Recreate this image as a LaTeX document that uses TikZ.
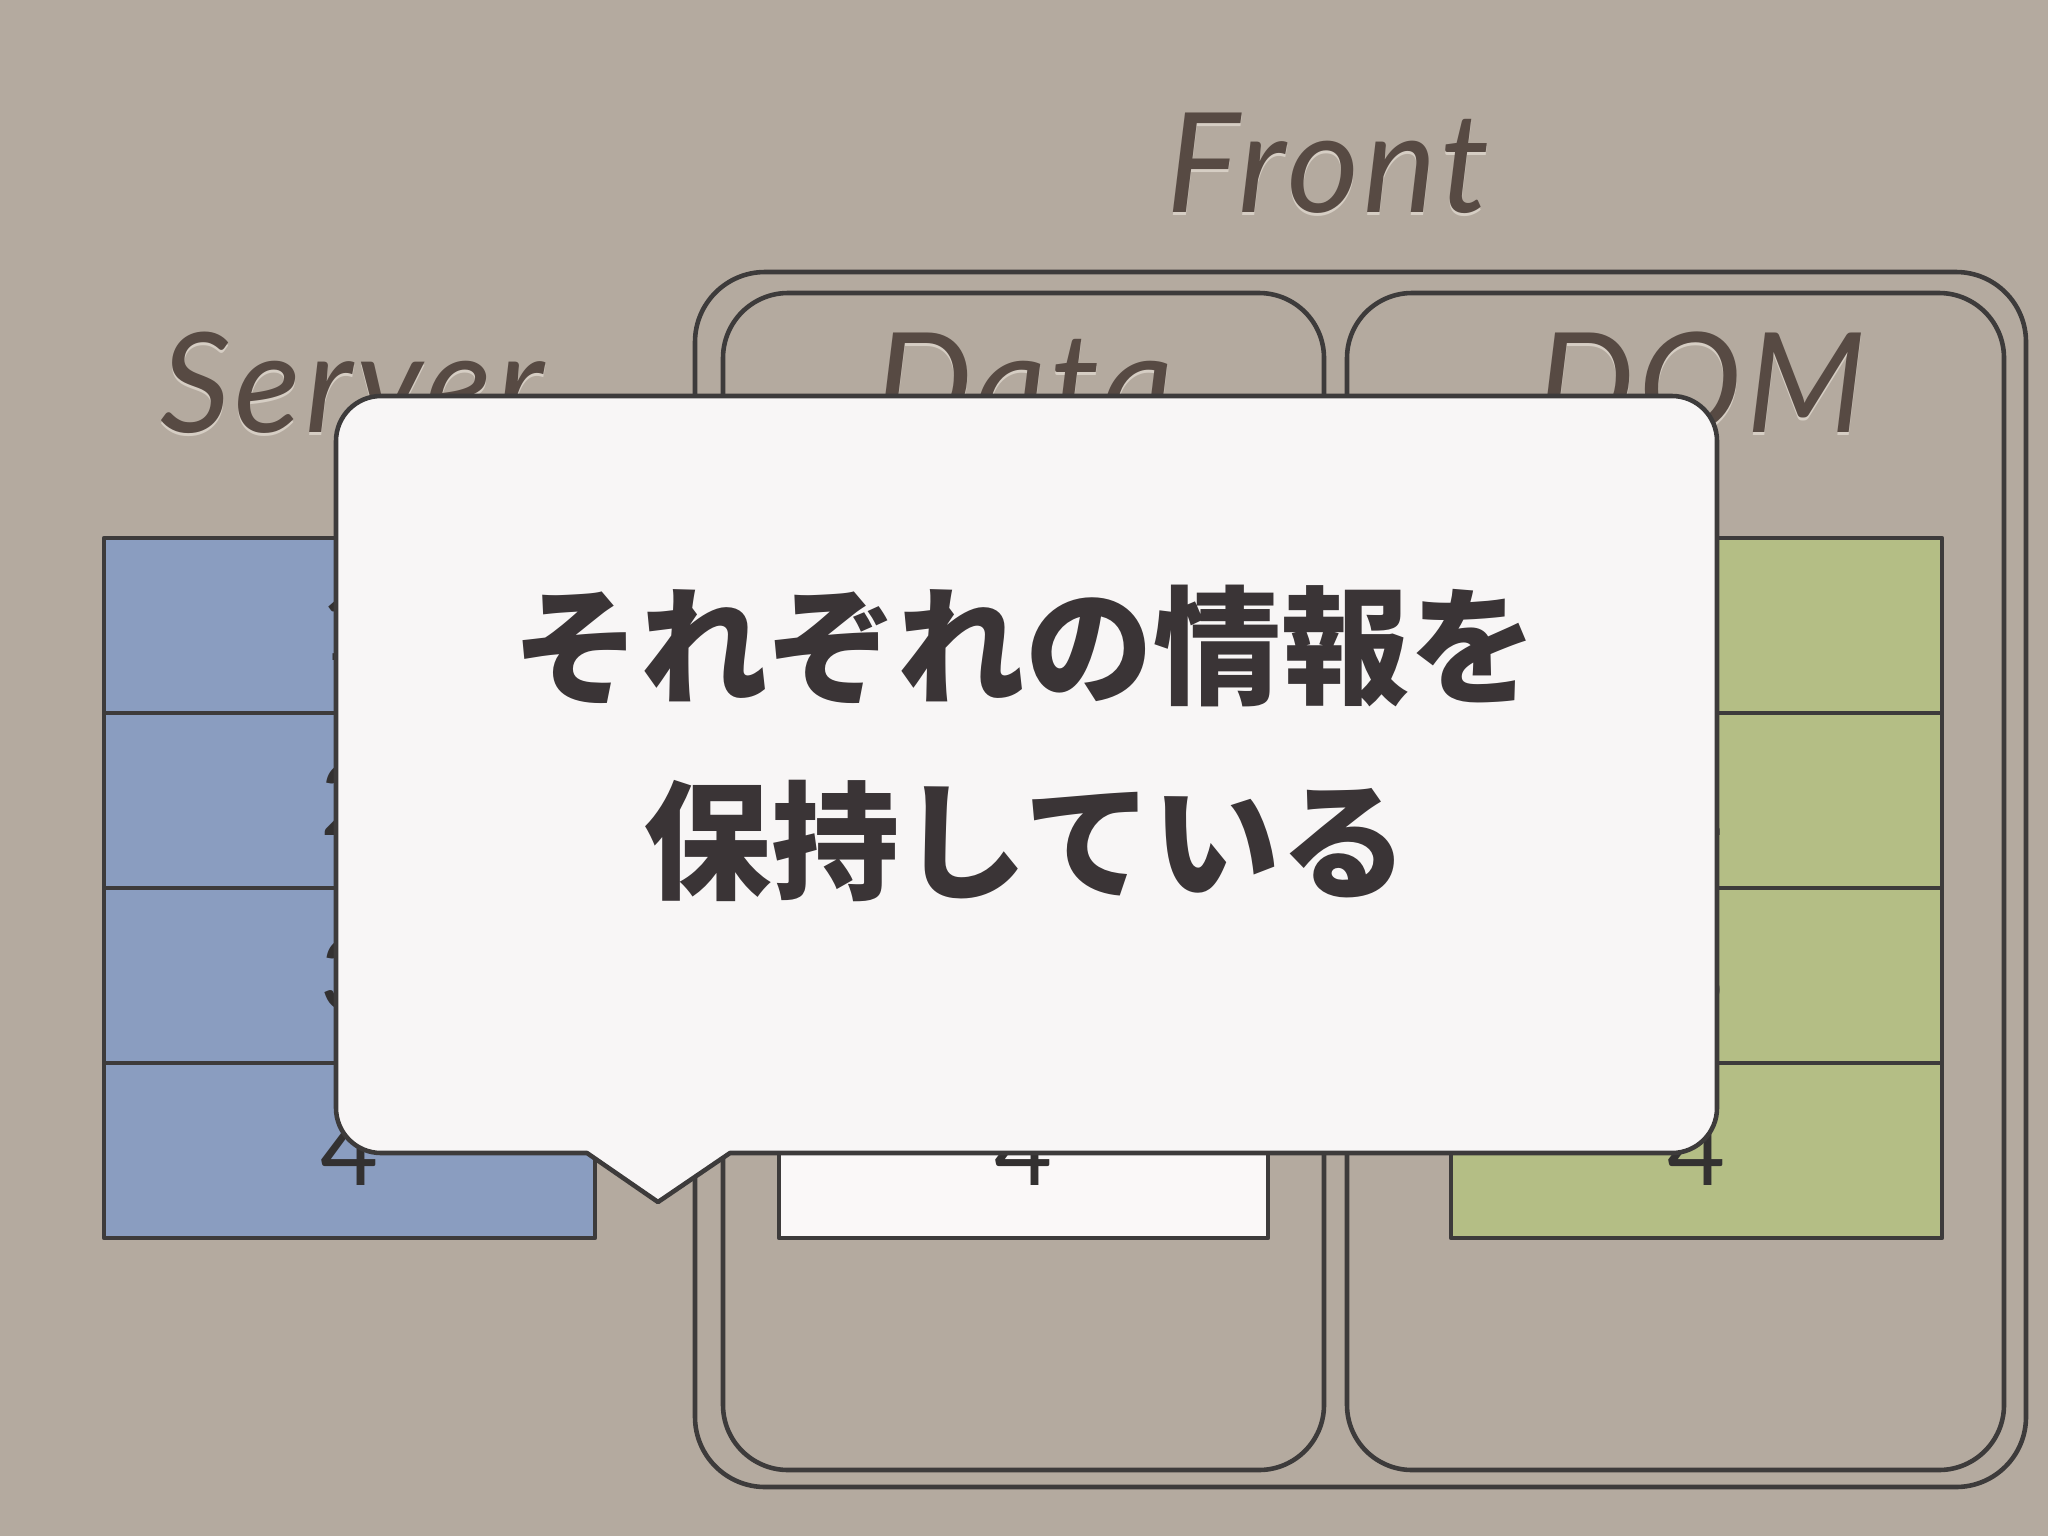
\documentclass[tikz,border=0pt]{standalone}
\usepackage{fontspec}
\setmainfont{Lato}
\newfontfamily\cjk{Noto Sans CJK JP Black}
\definecolor{bgc}{HTML}{B4AA9F}
\definecolor{linec}{HTML}{3D3B3B}
\definecolor{labc}{HTML}{574A43}
\definecolor{labhi}{HTML}{D6CEC4}
\definecolor{bluec}{HTML}{8A9DC0}
\definecolor{greenc}{HTML}{B4BE85}
\definecolor{whitec}{HTML}{FAF8F8}
\definecolor{callc}{HTML}{F8F6F6}
\definecolor{txtc}{HTML}{3A3436}
\definecolor{digc}{HTML}{333131}
\tikzset{
  lblfont/.style={font=\fontsize{39.5pt}{41pt}\selectfont\itshape\addfontfeature{LetterSpace=3.0}},
  sketch/.style={draw=linec, line width=1.3pt, line join=round},
  lbl/.style={lblfont, text=labc, inner sep=0pt, anchor=base},
  lblhi/.style={lblfont, text=labhi, inner sep=0pt, anchor=base},
  digit/.style={text=digc, font=\fontsize{28.5pt}{30pt}\selectfont, inner sep=0pt, anchor=base},
  jp/.style={text=txtc, font=\fontsize{36.4pt}{40pt}\selectfont\cjk, inner sep=0pt, anchor=center}
}
\begin{document}
\begin{tikzpicture}[x=0.01cm,y=-0.01cm]
\useasboundingbox (0,0) rectangle (2048,1536);
\fill[bgc] (0,0) rectangle (2048,1536);

% Front containers
\draw[sketch, rounded corners=0.7cm] (695,272) rectangle (2026,1487);
\draw[sketch, rounded corners=0.65cm] (723,293) rectangle (1324,1470);
\draw[sketch, rounded corners=0.65cm] (1347,293) rectangle (2004,1470);

% Labels
\node[lblhi] (fronthi) at (1328,215) {Front};
\node[lbl] (front) at (1328,212) {Front};
\node[lblhi] (serverhi) at (352,435) {Server};
\node[lbl] (server) at (352,432) {Server};
\node[lblhi] (datahi) at (1024,435) {Data};
\node[lbl] (data) at (1024,432) {Data};
\node[lblhi] (domhi) at (1701,435) {DOM};
\node[lbl] (dom) at (1701,432) {DOM};

% Columns
\foreach \xl/\xr/\col/\nm in {104/595/bluec/s, 779/1268/whitec/d, 1451/1942/greenc/m}{
  \path[sketch, fill=\col] (\xl,538) rectangle (\xr,1238);
  \foreach \yy in {713,888,1063}{
    \draw[sketch] (\xl,\yy) -- (\xr,\yy);
  }
  \foreach \k/\yt in {1/538,2/713,3/888,4/1063}{
    \node[digit] (\nm\k) at ({(\xl+\xr)/2},{\yt+122}) {\k};
  }
}

% Callout
\path[sketch, fill=callc] (336,800) [rounded corners=0.45cm] -- (336,396) -- (1717,396) -- (1717,1153) [sharp corners] -- (730,1153) -- (658,1202) -- (587,1153) [rounded corners=0.45cm] -- (336,1153) -- cycle;
\node[jp] (line1) at (1025,646) {それぞれの情報を};
\node[jp] (line2) at (1026,841) {保持している};
\end{tikzpicture}
\end{document}
